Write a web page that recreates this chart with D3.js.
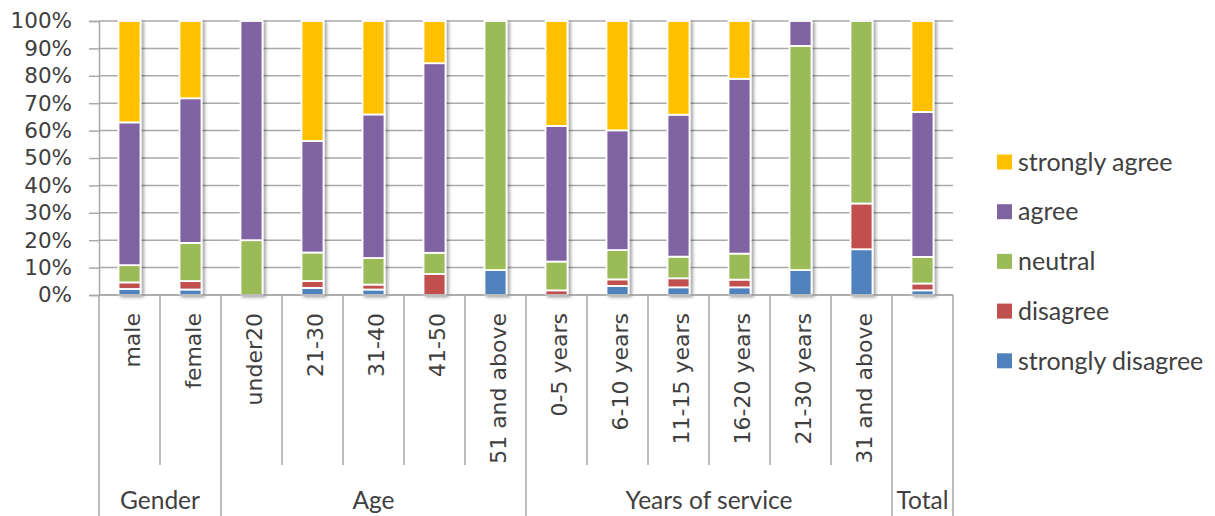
<!DOCTYPE html>
<html>
<head>
<meta charset="utf-8">
<script src="https://cdn.jsdelivr.net/npm/d3@7"></script>
<style>
  html, body { margin: 0; padding: 0; background: #fff; }
  svg { display: block; }
</style>
</head>
<body>
<svg id="chart" width="1215" height="516"></svg>
<script>
// Response shares (%) by respondent category
const categories = ["male", "female", "under20", "21-30", "31-40", "41-50", "51 and above",
  "0-5 years", "6-10 years", "11-15 years", "16-20 years", "21-30 years", "31 and above", "Total"];
// The Total column carries only its group label
const categoryLabels = ["male", "female", "under20", "21-30", "31-40", "41-50", "51 and above",
  "0-5 years", "6-10 years", "11-15 years", "16-20 years", "21-30 years", "31 and above", ""];
const groupNames = ["Gender", "Age", "Years of service", "Total"];
const groupSizes = [2, 5, 6, 1];

const stronglyDisagree = [2.2, 2.0, 0, 2.6, 2.0, 0, 9.1, 0, 3.3, 2.8, 2.8, 9.1, 16.7, 1.7];
const disagree         = [2.4, 3.1, 0, 2.5, 1.8, 7.7, 0, 1.7, 2.4, 3.3, 2.8, 0, 16.7, 2.5];
const neutral          = [6.3, 13.9, 20, 10.4, 9.7, 7.7, 90.9, 10.5, 10.7, 7.9, 9.5, 81.8, 66.6, 9.7];
const agree            = [52.1, 52.8, 80, 40.7, 52.4, 69.2, 0, 49.5, 43.7, 51.8, 63.8, 9.1, 0, 52.9];
const stronglyAgree    = [37.0, 28.2, 0, 43.8, 34.1, 15.4, 0, 38.3, 39.9, 34.2, 21.1, 0, 0, 33.2];

const seriesNames = ["strongly disagree", "disagree", "neutral", "agree", "strongly agree"];
const seriesColors = ["#4F81BD", "#C0504D", "#9BBB59", "#8064A2", "#FFC000"];
const yTicks = [0, 10, 20, 30, 40, 50, 60, 70, 80, 90, 100];

// Rows for d3.stack
const seriesValues = [stronglyDisagree, disagree, neutral, agree, stronglyAgree];
const rows = categories.map((c, i) => {
  const r = { category: c };
  seriesNames.forEach((s, k) => { r[s] = seriesValues[k][i]; });
  return r;
});

const svg = d3.select("#chart");
const plotLeft = 99, plotRight = 953, plotTop = 21, plotBottom = 295;
const labelBottom = 465, chartBottom = 516;

const x = d3.scaleBand().domain(categories).range([plotLeft, plotRight]).padding(0);
const y = d3.scaleLinear().domain([0, 100]).range([plotBottom, plotTop]);
const color = d3.scaleOrdinal().domain(seriesNames).range(seriesColors);
const barW = 22;

const textColor = "#404040";
const gridColor = "#a9a9a9";

// Horizontal gridlines
svg.append("g")
  .selectAll("line")
  .data(yTicks)
  .join("line")
  .attr("x1", plotLeft).attr("x2", plotRight)
  .attr("y1", d => y(d)).attr("y2", d => y(d))
  .attr("stroke", gridColor)
  .attr("stroke-width", 1.5);

// Y axis
const yAxis = svg.append("g")
  .attr("transform", `translate(${plotLeft},0)`)
  .call(d3.axisLeft(y).tickValues(yTicks).tickFormat(d => d + "%").tickSize(10).tickPadding(17));
yAxis.select(".domain").attr("stroke", gridColor).attr("stroke-width", 1.5);
yAxis.selectAll(".tick line").attr("stroke", gridColor).attr("stroke-width", 1.5);
yAxis.selectAll(".tick text")
  .attr("fill", textColor)
  .style("font-family", "'DejaVu Sans', Verdana, sans-serif")
  .style("font-size", "21.5px");

// Drop shadow for the bars
const defs = svg.append("defs");
const f = defs.append("filter").attr("id", "barShadow")
  .attr("x", "-50%").attr("y", "-5%").attr("width", "200%").attr("height", "110%");
f.append("feDropShadow")
  .attr("dx", 2.5).attr("dy", 1.5).attr("stdDeviation", 1.6)
  .attr("flood-color", "#000").attr("flood-opacity", 0.35);

// Stacked bars
const stacked = d3.stack().keys(seriesNames)(rows);
const barsG = svg.append("g").attr("filter", "url(#barShadow)");
barsG.selectAll("g")
  .data(stacked)
  .join("g")
  .attr("fill", d => color(d.key))
  .selectAll("rect")
  .data(d => d.filter(p => p[1] - p[0] > 0))
  .join("rect")
  .attr("x", d => x(d.data.category) + x.bandwidth() / 2 - barW / 2)
  .attr("width", barW)
  .attr("y", d => y(d[1]))
  .attr("height", d => y(d[0]) - y(d[1]))
  .attr("stroke", "#fff")
  .attr("stroke-width", 1.8);

// X axis baseline
svg.append("line")
  .attr("x1", plotLeft).attr("x2", plotRight)
  .attr("y1", plotBottom).attr("y2", plotBottom)
  .attr("stroke", gridColor).attr("stroke-width", 1.5);

// Category and group separators
const groupStarts = [];
let acc = 0;
groupSizes.forEach(n => { groupStarts.push(acc); acc += n; });
const boundaries = d3.range(categories.length + 1).map(i => ({
  x: i < categories.length ? x(categories[i]) : plotRight,
  group: i === categories.length || groupStarts.includes(i)
}));
svg.append("g")
  .selectAll("line")
  .data(boundaries)
  .join("line")
  .attr("x1", d => d.x).attr("x2", d => d.x)
  .attr("y1", plotBottom)
  .attr("y2", d => d.group ? chartBottom : labelBottom)
  .attr("stroke", gridColor)
  .attr("stroke-width", 1.5);

// Rotated category labels
svg.append("g")
  .selectAll("text")
  .data(categories.map((c, i) => ({ key: c, label: categoryLabels[i] })))
  .join("text")
  .attr("transform", d => `translate(${x(d.key) + x.bandwidth() / 2 + 10.5},313) rotate(-90)`)
  .attr("text-anchor", "end")
  .attr("fill", textColor)
  .style("font-family", "'DejaVu Sans', Verdana, sans-serif")
  .style("font-size", "22px")
  .text(d => d.label);

// Group labels
const groups = groupNames.map((g, i) => {
  const first = categories[groupStarts[i]];
  const lastIdx = groupStarts[i] + groupSizes[i] - 1;
  const x0 = x(first);
  const x1 = x(categories[lastIdx]) + x.bandwidth();
  return { name: g, cx: (x0 + x1) / 2 };
});
svg.append("g")
  .selectAll("text")
  .data(groups)
  .join("text")
  .attr("x", d => d.cx)
  .attr("y", 509)
  .attr("text-anchor", "middle")
  .attr("fill", textColor)
  .style("font-family", "Lato, Carlito, sans-serif")
  .style("font-size", "24.5px")
  .text(d => d.name);

// Legend (top entry is the top segment)
const legendItems = seriesNames.slice().reverse();
const legend = svg.append("g")
  .selectAll("g")
  .data(legendItems)
  .join("g")
  .attr("transform", (d, i) => `translate(997,${162 + i * 49.7})`);
legend.append("rect")
  .attr("x", 0).attr("y", -7.5)
  .attr("width", 15).attr("height", 15)
  .attr("fill", d => color(d));
legend.append("text")
  .attr("x", 21)
  .attr("y", 0)
  .attr("dy", "0.35em")
  .attr("fill", textColor)
  .style("font-family", "Lato, Carlito, sans-serif")
  .style("font-size", "25px")
  .text(d => d);
</script>
</body>
</html>
